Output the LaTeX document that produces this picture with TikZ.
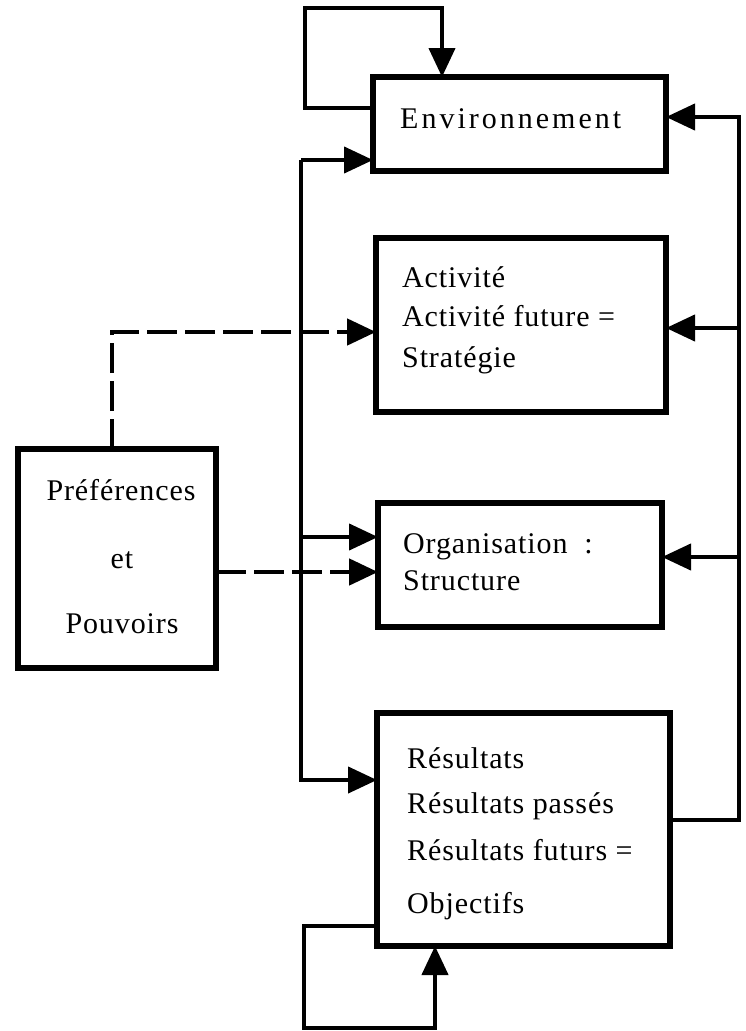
\documentclass[tikz,border=0pt]{standalone}
\usepackage{fontspec}
\setmainfont{Liberation Serif}[LetterSpace=3]
\usetikzlibrary{arrows.meta}

\tikzset{
  box/.style={draw, line width=5.5pt, minimum width=#1, inner sep=0pt},
  txt/.style={anchor=base west, inner sep=0pt, font=\fontsize{30}{34}\selectfont},
  ctxt/.style={anchor=base, inner sep=0pt, font=\fontsize{30}{34}\selectfont},
  conn/.style={line width=4.2pt},
  dconn/.style={line width=4.8pt, dash pattern=on 30pt off 8pt},
  tip/.style={-{Triangle[length=29pt,width=26pt]}},
}

\begin{document}
\begin{tikzpicture}[x=1pt,y=-1pt]
\useasboundingbox (0,0) rectangle (746,1031);

% boxes
\node[box=293pt, minimum height=94pt]  (env) at (519.5,124)   {};
\node[box=290pt, minimum height=174pt] (act) at (521,325)     {};
\node[box=284pt, minimum height=124pt] (org) at (520,565)     {};
\node[box=293pt, minimum height=233pt] (res) at (523.5,829.5) {};
\node[box=198pt, minimum height=219pt] (pref) at (117,558.5)  {};

% texts
\node[txt, font=\fontsize{30}{34}\selectfont\addfontfeature{LetterSpace=10}] (tEnv) at (400,128) {Environnement};
\node[txt] (tAct1) at (402,287) {Activité};
\node[txt] (tAct2) at (402,326) {Activité future =};
\node[txt] (tAct3) at (402,367) {Stratégie};
\node[txt] (tOrg1) at (403,553) {Organisation \ :};
\node[txt] (tOrg2) at (403,590) {Structure};
\node[txt] (tRes1) at (407,768) {Résultats};
\node[txt] (tRes2) at (407,813) {Résultats passés};
\node[txt] (tRes3) at (407,860) {Résultats futurs =};
\node[txt] (tRes4) at (407,913) {Objectifs};
\node[ctxt] (tPref1) at (121,500) {Préférences};
\node[ctxt] (tPref2) at (122,568) {et};
\node[ctxt] (tPref3) at (122,633) {Pouvoirs};

% connection points
\coordinate (envLoopOut) at (373,108);
\coordinate (envLoopL)   at (305,8);
\coordinate (envLoopIn)  at (442,77);
\coordinate (envInL)     at (373,160);
\coordinate (envInR)     at (666,117);
\coordinate (busL)       at (301,160);
\coordinate (busR)       at (739,820);
\coordinate (actInL)     at (376,332);
\coordinate (actInR)     at (666,328);
\coordinate (orgInL)     at (378,537);
\coordinate (orgInD)     at (378,572);
\coordinate (orgInR)     at (662,557);
\coordinate (resInL)     at (377,780);
\coordinate (resOut)     at (670,820);
\coordinate (resLoopOut) at (377,926);
\coordinate (resLoopL)   at (304,1028);
\coordinate (resLoopIn)  at (435,946);
\coordinate (prefTop)    at (112,449);
\coordinate (prefRight)  at (216,572);

% environment self loop
\draw[conn, tip] (envLoopOut) -| (envLoopL) -| (envLoopIn);

% left bus feeding environment, organisation and results
\draw[conn, tip] (busL) -- (envInL);
\draw[conn, tip] (busL) |- (resInL);
\draw[conn, tip] (busL |- orgInL) -- (orgInL);

% right bus: results fed back upward
\draw[conn, tip] (resOut) -| (busR |- envInR) -- (envInR);
\draw[conn, tip] (busR |- actInR) -- (actInR);
\draw[conn, tip] (busR |- orgInR) -- (orgInR);

% results self loop
\draw[conn, tip] (resLoopOut) -| (resLoopL) -| (resLoopIn);

% preferences and powers (dashed)
\draw[dconn, tip] (prefTop) |- (actInL);
\draw[dconn, tip] (prefRight) -- (orgInD);
\end{tikzpicture}
\end{document}
